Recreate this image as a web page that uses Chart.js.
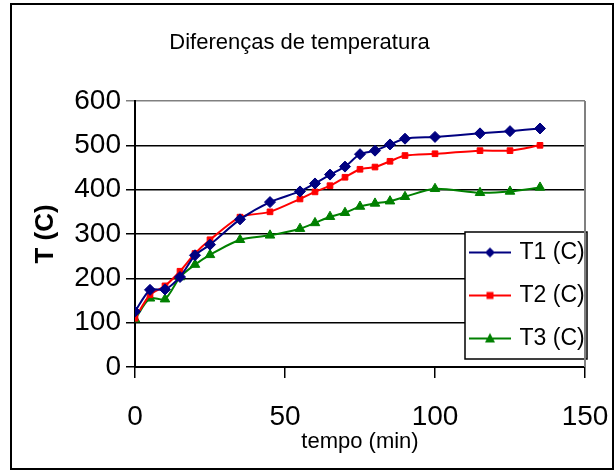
<!DOCTYPE html>
<html>
<head>
<meta charset="utf-8">
<script src="https://cdn.jsdelivr.net/npm/chart.js@4/dist/chart.umd.min.js"></script>
<style>
  body { margin: 0; background: #fff; }
  #wrap { width: 614px; height: 471px; }
</style>
</head>
<body>
<div id="wrap"><canvas id="myChart" width="614" height="471"></canvas></div>
<script>
// tempo (min)
const tempo = [0, 5, 10, 15, 20, 25, 35, 45, 55, 60, 65, 70, 75, 80, 85, 90, 100, 115, 125, 135];
// temperatures
const t1 = [125, 174, 175, 203, 252, 276, 333, 372, 396, 414, 434, 452, 480, 488, 502, 515, 519, 527, 532, 538];
const t2 = [110, 163, 183, 216, 256, 287, 338, 350, 379, 395, 409, 428, 446, 451, 464, 477, 481, 488, 488, 500];
const t3 = [108, 155, 153, 203, 231, 253, 287, 297, 312, 325, 339, 348, 362, 369, 374, 384, 402, 393, 396, 405];
const seriesNames = ['T1 (C)', 'T2 (C)', 'T3 (C)'];
const xTicks = [0, 50, 100, 150];
const yTicks = [0, 100, 200, 300, 400, 500, 600];

const FONT = "'Liberation Sans', Arial, sans-serif";

function pts(ys) {
    return tempo.map(function (x, i) { return { x: x, y: ys[i] }; });
}

// small legend icons: line with the marker in the middle
function legendIcon(color, style) {
    var c = document.createElement('canvas');
    c.width = 42; c.height = 16;
    var g = c.getContext('2d');
    g.strokeStyle = color; g.fillStyle = color; g.lineWidth = 2;
    g.beginPath(); g.moveTo(0, 8); g.lineTo(42, 8); g.stroke();
    g.beginPath();
    if (style === 'rectRot') {
        g.moveTo(21, 3); g.lineTo(26, 8); g.lineTo(21, 13); g.lineTo(16, 8);
    } else if (style === 'rect') {
        g.rect(17.5, 4.5, 7, 7);
    } else {
        g.moveTo(21, 2.5); g.lineTo(26, 12); g.lineTo(16, 12);
    }
    g.closePath(); g.fill();
    return c;
}

const colors = ['#000080', '#ff0000', '#008000'];
const styles = ['rectRot', 'rect', 'triangle'];
const radii = [5.5, 4, 5.5];

const boxPlugin = {
    id: 'boxes',
    beforeDraw(chart) {
        const ctx = chart.ctx;
        ctx.save();
        ctx.fillStyle = '#fff';
        ctx.fillRect(0, 0, chart.width, chart.height);
        ctx.strokeStyle = '#000';
        ctx.lineWidth = 2;
        ctx.strokeRect(11, 4, 602, 465);
        ctx.restore();
    },
    afterLayout(chart) {
        const lg = chart.legend;
        lg.left = 452; lg.top = 221; lg.width = 150; lg.height = 160;
        lg.right = lg.left + lg.width; lg.bottom = lg.top + lg.height;
        if (!lg._boxed) {
            const orig = lg.draw.bind(lg);
            lg.draw = function () {
                const ctx = chart.ctx;
                ctx.save();
                ctx.fillStyle = '#fff';
                ctx.fillRect(465, 232, 122, 127);
                ctx.strokeStyle = '#000';
                ctx.lineWidth = 1.5;
                ctx.strokeRect(465, 232, 122, 127);
                ctx.restore();
                orig();
            };
            lg._boxed = true;
        }
    },
    beforeDatasetsDraw(chart) {
        const a = chart.chartArea, ctx = chart.ctx;
        ctx.save();
        ctx.strokeStyle = '#808080';
        ctx.lineWidth = 2;
        ctx.beginPath();
        ctx.moveTo(a.right, a.top);
        ctx.lineTo(a.right, a.bottom);
        ctx.stroke();
        ctx.restore();
    }
};

var ctx = document.getElementById('myChart').getContext('2d');
var chart = new Chart(ctx, {
    type: 'line',
    data: {
        datasets: [t1, t2, t3].map(function (ys, i) {
            return {
                label: seriesNames[i],
                data: pts(ys),
                borderColor: colors[i],
                backgroundColor: colors[i],
                borderWidth: 2,
                pointStyle: styles[i],
                pointRadius: radii[i],
                pointBorderWidth: 1,
                tension: 0.25,
                fill: false
            };
        })
    },
    options: {
        responsive: false,
        animation: false,
        layout: { padding: { left: 14, right: 29, top: 5, bottom: 5 } },
        plugins: {
            title: {
                display: true,
                text: 'Diferenças de temperatura',
                color: '#000',
                font: { family: FONT, size: 22, weight: 'normal' },
                padding: { top: 25, bottom: 44.6 }
            },
            legend: {
                position: 'chartArea',
                align: 'start',
                labels: {
                    color: '#000',
                    font: { family: FONT, size: 23 },
                    usePointStyle: true,
                    pointStyleWidth: 36,
                    padding: 20,
                    generateLabels: function (chart) {
                        return chart.data.datasets.map(function (ds, i) {
                            return {
                                text: ds.label,
                                pointStyle: legendIcon(colors[i], styles[i]),
                                fillStyle: colors[i],
                                strokeStyle: colors[i],
                                lineWidth: 0,
                                datasetIndex: i,
                                fontColor: '#000'
                            };
                        });
                    }
                }
            },
            tooltip: { enabled: false }
        },
        scales: {
            x: {
                type: 'linear',
                min: xTicks[0],
                max: xTicks[xTicks.length - 1],
                afterBuildTicks: function (s) { s.ticks = xTicks.map(function (v) { return { value: v }; }); },
                afterFit: function (s) { s.height = 99; s.paddingLeft = 0; s.paddingRight = 0; },
                grid: { drawOnChartArea: false, drawTicks: true, tickLength: 11, color: '#000', lineWidth: 1.5 },
                border: { color: '#000', width: 2 },
                ticks: { color: '#000', padding: 22, font: { family: FONT, size: 28 } },
                title: {
                    display: true,
                    text: 'tempo (min)',
                    color: '#000',
                    font: { family: FONT, size: 22 },
                    padding: { top: 0, bottom: 11 }
                }
            },
            y: {
                min: yTicks[0],
                max: yTicks[yTicks.length - 1],
                afterBuildTicks: function (s) { s.ticks = yTicks.map(function (v) { return { value: v }; }); },
                afterFit: function (s) { s.width = 121; },
                grid: {
                    tickLength: 9,
                    lineWidth: 1.5,
                    color: function (c) { return c.tick && c.tick.value === 600 ? '#808080' : '#000'; }
                },
                border: { color: '#000', width: 2 },
                ticks: { color: '#000', padding: 5, font: { family: FONT, size: 28 } },
                title: {
                    display: true,
                    text: 'T (C)',
                    color: '#000',
                    font: { family: FONT, size: 26, weight: 'bold' },
                    padding: { top: 16, bottom: 0 }
                }
            }
        }
    },
    plugins: [boxPlugin]
});
</script>
</body>
</html>
